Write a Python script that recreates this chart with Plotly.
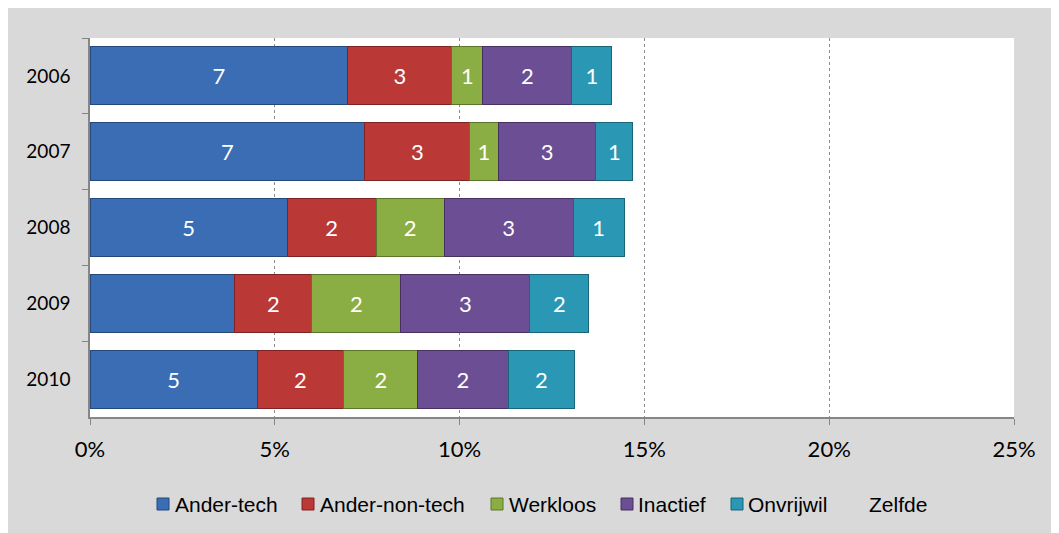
import plotly.graph_objects as go

years = ["2006", "2007", "2008", "2009", "2010"]
series_names = ["Ander-tech", "Ander-non-tech", "Werkloos", "Inactief", "Onvrijwil"]
ander_tech = [6.98, 7.44, 5.33, 3.92, 4.52]
ander_non_tech = [2.81, 2.84, 2.41, 2.08, 2.35]
werkloos = [0.84, 0.76, 1.84, 2.41, 2.00]
inactief = [2.41, 2.65, 3.49, 3.49, 2.44]
onvrijwil = [1.08, 1.00, 1.38, 1.60, 1.81]
labels_ander_tech = ["7", "7", "5", "", "5"]
labels_ander_non_tech = ["3", "3", "2", "2", "2"]
labels_werkloos = ["1", "1", "2", "2", "2"]
labels_inactief = ["2", "3", "3", "3", "2"]
labels_onvrijwil = ["1", "1", "1", "2", "2"]
legend_names = series_names + ["Zelfde"]
x_ticks = [0, 5, 10, 15, 20, 25]
x_tick_labels = ["0%", "5%", "10%", "15%", "20%", "25%"]

values = [ander_tech, ander_non_tech, werkloos, inactief, onvrijwil]
labels = [labels_ander_tech, labels_ander_non_tech, labels_werkloos, labels_inactief, labels_onvrijwil]
colors = ["#3A6DB3", "#BA3835", "#8BAE44", "#6C4E94", "#2A98B4"]
borders = ["#24497A", "#7E2321", "#5C7629", "#46305F", "#1B6579"]

W, H = 1051, 525
ML, MR, MT, MB = 82, 45, 30, 116
PW, PH = W - ML - MR, H - MT - MB


def px(x):
    return (x - 8 - ML) / PW


def py(y):
    return (H - MB - (y - 8)) / PH


fig = go.Figure()
for name, vals, txt, c, b in zip(series_names, values, labels, colors, borders):
    fig.add_trace(go.Bar(
        y=years, x=vals, name=name, orientation="h",
        marker=dict(color=c, line=dict(color=b, width=1)),
        text=txt, textposition="inside", insidetextanchor="middle",
        textfont=dict(family="Lato, Open Sans, sans-serif", size=22, color="white"),
        hoverinfo="x+name", showlegend=False,
    ))

# manual legend (small swatches right next to text, as in the reference)
swatch_x = [157, 302, 491, 621, 731, None]
text_x = [173, 318, 507, 636, 746, 867]
legend_y = 504
for i, name in enumerate(legend_names):
    if swatch_x[i] is not None:
        fig.add_shape(type="rect", xref="paper", yref="paper",
                      x0=px(swatch_x[i]), x1=px(swatch_x[i] + 12),
                      y0=py(legend_y + 6), y1=py(legend_y - 6),
                      fillcolor=colors[i], line=dict(color=borders[i], width=1))
    fig.add_annotation(xref="paper", yref="paper", x=px(text_x[i]), y=py(legend_y),
                       xanchor="left", yanchor="middle", showarrow=False, text=name,
                       font=dict(family="Liberation Sans, Arial, sans-serif", size=21, color="black"))

fig.update_layout(
    barmode="stack",
    bargap=0.235,
    width=W, height=H,
    margin=dict(l=ML, r=MR, t=MT, b=MB),
    paper_bgcolor="#D9D9D9",
    plot_bgcolor="white",
    showlegend=False,
    uniformtext=dict(mode="show", minsize=8),
)
fig.update_xaxes(
    range=[0, 25], tickvals=x_ticks, ticktext=x_tick_labels,
    showgrid=True, gridcolor="#8C8C8C", griddash="dot", gridwidth=1,
    showline=True, linecolor="#868686", linewidth=1.5,
    ticks="outside", ticklen=6, tickcolor="#868686",
    tickfont=dict(family="Lato, Open Sans, sans-serif", size=22, color="black"),
    ticklabelstandoff=6,
    zeroline=False, fixedrange=True,
)
fig.update_yaxes(
    categoryorder="array", categoryarray=years, autorange="reversed",
    showline=True, linecolor="#868686", linewidth=1.5,
    ticks="outside", ticklen=6, tickcolor="#868686", tickson="boundaries",
    tickfont=dict(family="Lato, Open Sans, sans-serif", size=19, color="black"),
    showgrid=False, ticklabelstandoff=14,
)

fig.write_html("out.html")
